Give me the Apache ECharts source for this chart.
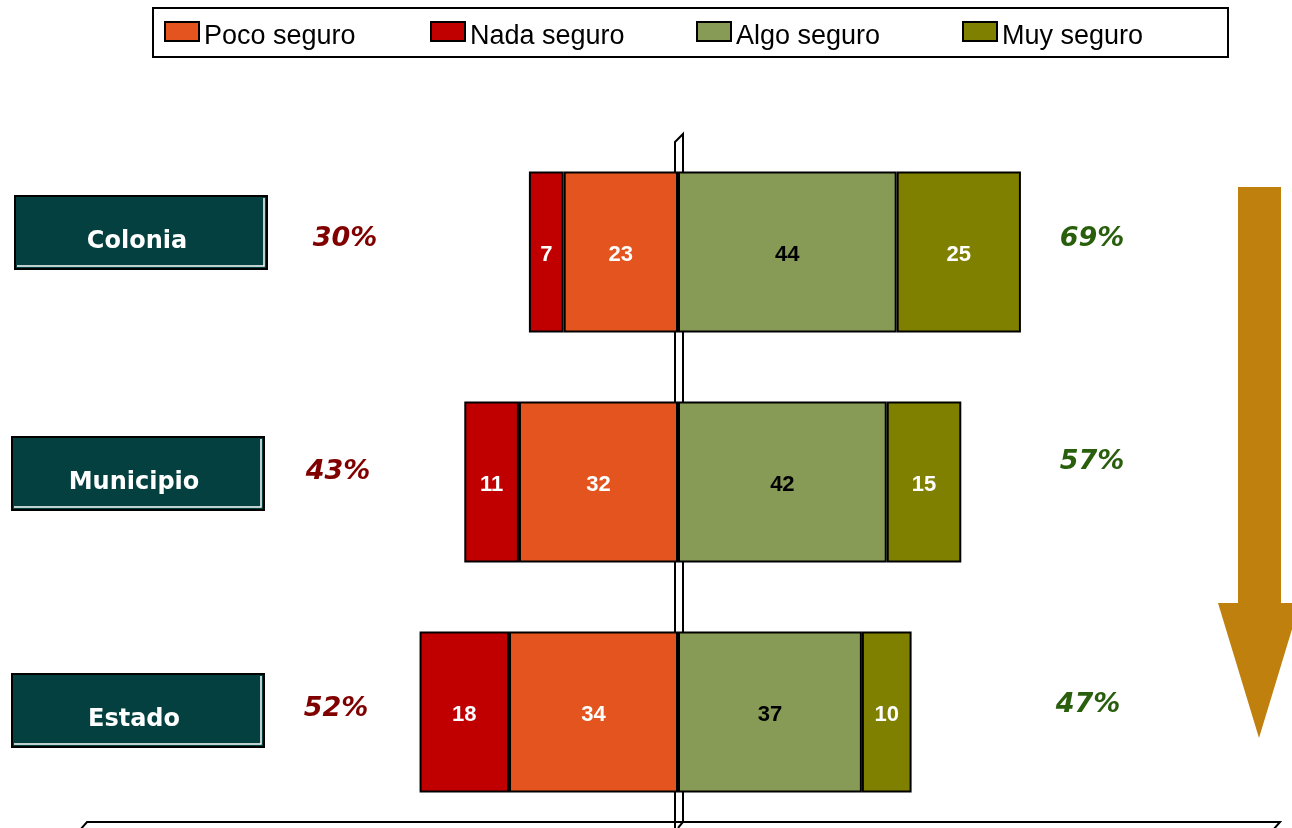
<!DOCTYPE html>
<html>
<head>
<meta charset="utf-8">
<script src="https://cdn.jsdelivr.net/npm/echarts@6/dist/echarts.min.js"></script>
<style>
  html, body { margin: 0; background: #fff; }
  #main { width: 1292px; height: 828px; }
</style>
</head>
<body>
<div id="main"></div>
<script>
// data
const categories = ['Colonia', 'Municipio', 'Estado'];
const pocoSeguro = [23, 32, 34];
const nadaSeguro = [7, 11, 18];
const algoSeguro = [44, 42, 37];
const muySeguro = [25, 15, 10];
const seriesNames = ['Poco seguro', 'Nada seguro', 'Algo seguro', 'Muy seguro'];

// layout of the annotations (pixels)
const boxPos = [[15, 196], [12, 437], [12, 674]];
const leftPctPos = [[345, 239], [338, 472], [336, 709]];
const rightPctPos = [[1092, 239], [1092, 462], [1088, 705]];

const colors = ['#E3541E', '#C00000', '#879B56', '#808000'];

const chart = echarts.init(document.getElementById('main'));

function barLabel(color) {
  return {
    show: true,
    position: 'inside',
    offset: [0, 3],
    color: color,
    fontFamily: '"Liberation Sans", Arial',
    fontWeight: 'bold',
    fontSize: 22,
    formatter: p => Math.abs(p.value)
  };
}

function barSeries(name, data, color, labelColor) {
  return {
    name: name,
    type: 'bar',
    stack: 'total',
    data: data,
    barWidth: 161,
    itemStyle: { color: color, borderColor: '#000', borderWidth: 2 },
    label: barLabel(labelColor),
    emphasis: { disabled: true },
    z: 2
  };
}

let option = {
  animation: false,
  backgroundColor: '#fff',
  legend: {
    data: seriesNames,
    left: 153,
    top: 8,
    padding: [5, 66, 7, 11],
    itemGap: 66,
    itemWidth: 34,
    itemHeight: 19,
    icon: 'rect',
    borderColor: '#000',
    borderWidth: 2,
    selectedMode: false,
    itemStyle: { borderColor: '#000', borderWidth: 2 },
    formatter: '{t|{name}}',
    textStyle: {
      rich: {
        t: {
          fontFamily: '"Liberation Sans", Arial',
          fontSize: 27,
          color: '#000',
          width: 160,
          lineHeight: 26,
          padding: [10, 0, 0, 0]
        }
      }
    }
  },
  grid: { left: 181, width: 994, top: 137, height: 690 },
  xAxis: { type: 'value', min: -100, max: 100, show: false },
  yAxis: { type: 'category', data: categories, inverse: true, show: false },
  series: [
    barSeries(seriesNames[0], pocoSeguro.map(v => -v), colors[0], '#fff'),
    barSeries(seriesNames[1], nadaSeguro.map(v => -v), colors[1], '#fff'),
    barSeries(seriesNames[2], algoSeguro, colors[2], '#000'),
    barSeries(seriesNames[3], muySeguro, colors[3], '#fff')
  ]
};

chart.setOption(option);

// decorations: centre wall, floor, arrow, category boxes, totals
const x0 = chart.convertToPixel({ xAxisIndex: 0 }, 0);
const graphics = [];

graphics.push({
  type: 'polyline', z: 0,
  shape: { points: [[x0 - 3, 830], [x0 - 3, 142], [x0 + 5, 134], [x0 + 5, 822], [x0, 828]] },
  style: { stroke: '#000', lineWidth: 2, fill: null }
});
graphics.push({
  type: 'polyline', z: 0,
  shape: { points: [[80, 830], [87, 822], [1280, 822], [1273, 830]] },
  style: { stroke: '#000', lineWidth: 2, fill: null }
});
graphics.push({
  type: 'polygon', z: 0,
  shape: { points: [[1238, 187], [1281, 187], [1281, 603], [1300, 603], [1259, 738], [1218, 603], [1238, 603]] },
  style: { fill: '#C0800E' }
});

categories.forEach((name, i) => {
  const [bx, by] = boxPos[i];
  const w = 252, h = 73;
  graphics.push({
    type: 'rect', z: 10,
    shape: { x: bx, y: by, width: w, height: h },
    style: { fill: '#03403F', stroke: '#000', lineWidth: 2 }
  });
  graphics.push({
    type: 'polyline', z: 11,
    shape: { points: [[bx + w - 3, by + 2], [bx + w - 3, by + h - 3], [bx + 2, by + h - 3]] },
    style: { stroke: '#fff', lineWidth: 1.5, fill: null }
  });
  graphics.push({
    type: 'text', z: 12,
    style: {
      text: name,
      x: bx + w / 2 - 4,
      y: by + h / 2 + 9,
      align: 'center',
      verticalAlign: 'middle',
      fill: '#fff',
      font: 'bold 24px "DejaVu Sans"'
    }
  });
  const neg = pocoSeguro[i] + nadaSeguro[i];
  const pos = algoSeguro[i] + muySeguro[i];
  graphics.push({
    type: 'text', z: 12,
    style: {
      text: neg + '%',
      x: leftPctPos[i][0], y: leftPctPos[i][1],
      align: 'center', verticalAlign: 'middle',
      fill: '#800000',
      font: 'italic bold 27px "DejaVu Sans"'
    }
  });
  graphics.push({
    type: 'text', z: 12,
    style: {
      text: pos + '%',
      x: rightPctPos[i][0], y: rightPctPos[i][1],
      align: 'center', verticalAlign: 'middle',
      fill: '#285E0C',
      font: 'italic bold 27px "DejaVu Sans"'
    }
  });
});

chart.setOption({ graphic: graphics });
</script>
</body>
</html>
